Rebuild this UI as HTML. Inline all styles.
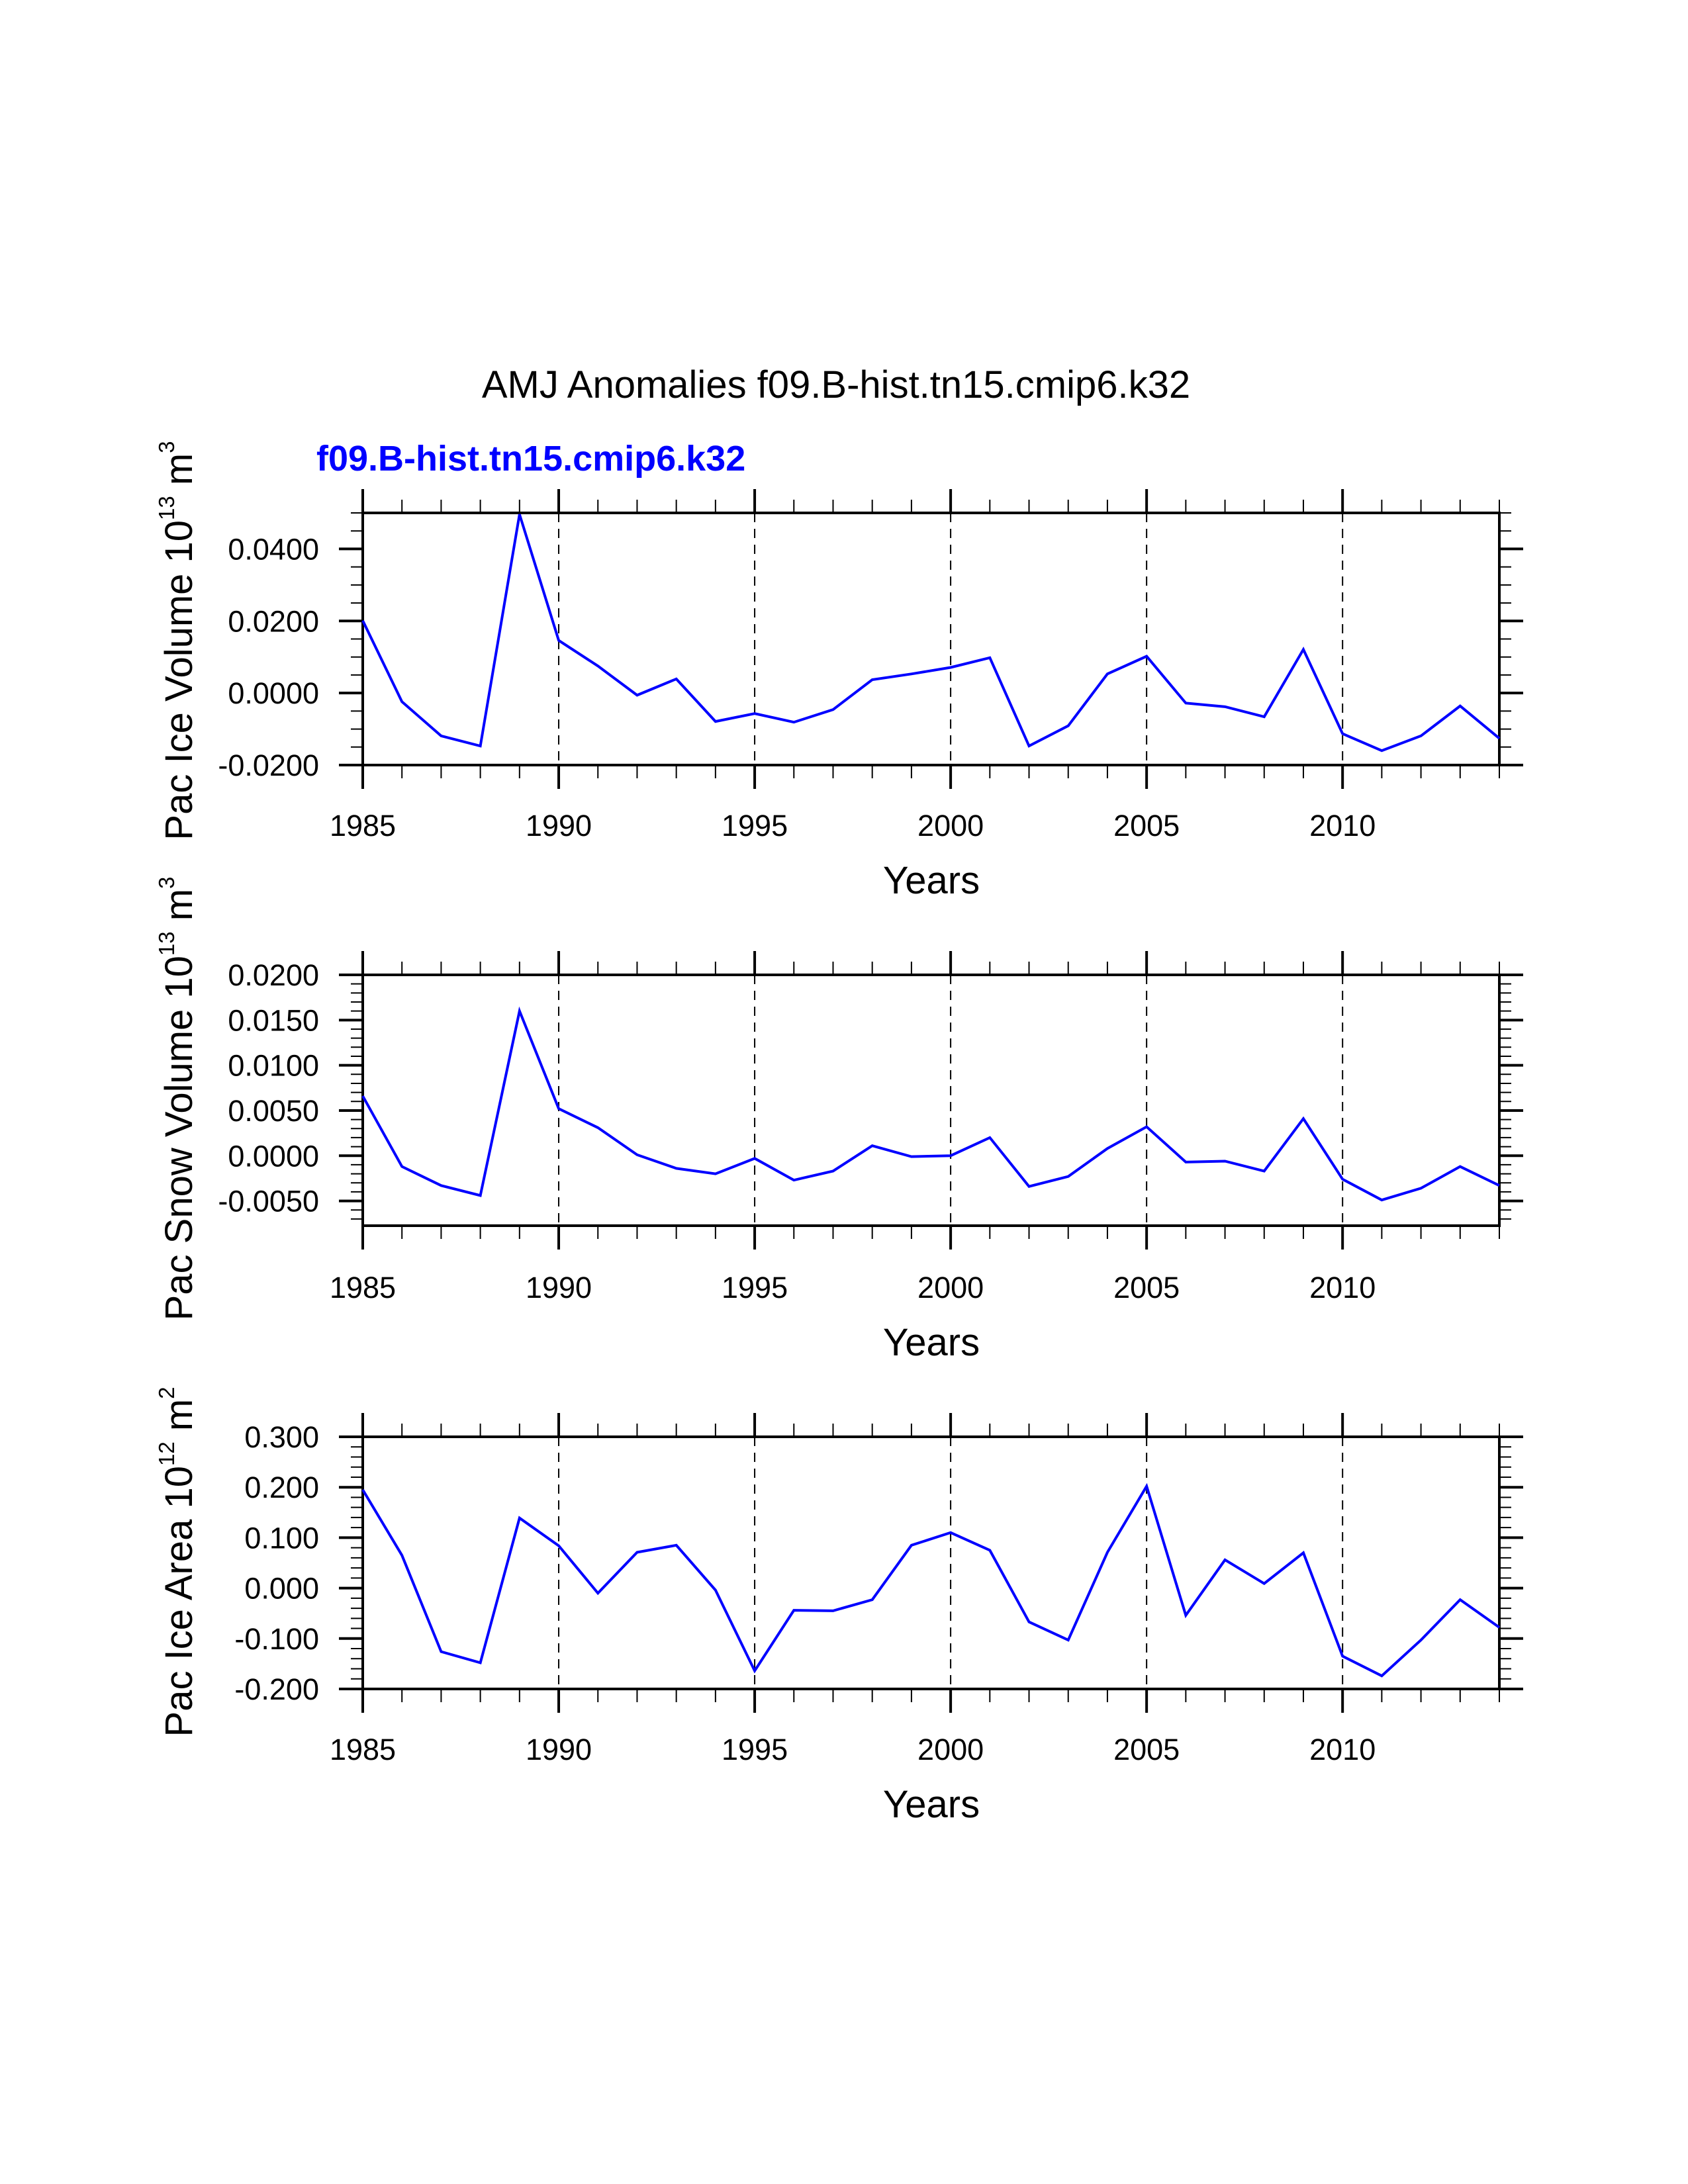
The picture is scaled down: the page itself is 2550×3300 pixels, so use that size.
<!DOCTYPE html>
<html><head><meta charset="utf-8"><style>
html,body{margin:0;padding:0;background:#fff;}
svg{display:block;font-family:"Liberation Sans",sans-serif;}
</style></head><body>
<svg id="chart" xmlns="http://www.w3.org/2000/svg" width="2550" height="3300" viewBox="0 0 2550 3300">
<rect width="2550" height="3300" fill="#fff"/>
<text x="1263" y="601" font-size="58" text-anchor="middle">AMJ Anomalies f09.B-hist.tn15.cmip6.k32</text>
<text x="478" y="711" font-size="54" font-weight="bold" fill="#0000ff">f09.B-hist.tn15.cmip6.k32</text>
</svg>
<script>
const years = [1985,1986,1987,1988,1989,1990,1991,1992,1993,1994,1995,1996,1997,1998,1999,2000,2001,2002,2003,2004,2005,2006,2007,2008,2009,2010,2011,2012,2013,2014];
const iceVolume = [0.0201,-0.0024,-0.0119,-0.0147,0.0496,0.0146,0.0075,-0.0006,0.0039,-0.0079,-0.0057,-0.0081,-0.0046,0.0037,0.0053,0.0071,0.0098,-0.0147,-0.0091,0.0053,0.0102,-0.0028,-0.0038,-0.0066,0.0121,-0.0113,-0.0160,-0.0119,-0.0036,-0.0126];
const snowVolume = [0.0066,-0.0012,-0.0033,-0.0044,0.0160,0.0052,0.0031,0.0001,-0.0014,-0.0020,-0.0003,-0.0027,-0.0017,0.0011,-0.0001,0.0000,0.0020,-0.0034,-0.0023,0.0008,0.0032,-0.0007,-0.0006,-0.0017,0.0041,-0.0026,-0.0049,-0.0036,-0.0012,-0.0033];
const iceArea = [0.195,0.065,-0.126,-0.148,0.139,0.084,-0.010,0.071,0.085,-0.004,-0.164,-0.044,-0.045,-0.023,0.085,0.110,0.075,-0.067,-0.103,0.071,0.202,-0.054,0.056,0.009,0.070,-0.135,-0.174,-0.103,-0.023,-0.078];
const xTickLabels = ["1985","1990","1995","2000","2005","2010"];
const iceVolTicks = ["-0.0200","0.0000","0.0200","0.0400"];
const snowTicks = ["-0.0050","0.0000","0.0050","0.0100","0.0150","0.0200"];
const areaTicks = ["-0.200","-0.100","0.000","0.100","0.200","0.300"];

const NS="http://www.w3.org/2000/svg";
const svg=document.getElementById('chart');
function el(tag,attrs,parent){const e=document.createElementNS(NS,tag);for(const k in attrs)e.setAttribute(k,attrs[k]);(parent||svg).appendChild(e);return e;}

const L=548,R=2265,X0=1985,X1=2014;
const xs=v=>L+(v-X0)/(X1-X0)*(R-L);

function panel(key,top,bot,ymin,ymax,data,ticks,minorStep,titleParts,titleY,tickLblY,yearsY){
  const g=el('g',{});
  
  
  const ys=v=>bot-(v-ymin)/(ymax-ymin)*(bot-top);
  for(let y=1990;y<=2010;y+=5){
    const d=el('line',{x1:xs(y),x2:xs(y),y1:top,y2:bot,stroke:'#000','stroke-width':2,'stroke-dasharray':'14,10'},g);
    
    
  }
  for(let y=X0;y<=X1;y++){
    const major=(y%5===0);const len=major?36:20;
    el('line',{x1:xs(y),x2:xs(y),y1:top-len,y2:top,stroke:'#000','stroke-width':major?4:2},g);
    el('line',{x1:xs(y),x2:xs(y),y1:bot,y2:bot+len,stroke:'#000','stroke-width':major?4:2},g);
  }
  xTickLabels.forEach(s=>{
    const t=el('text',{x:xs(+s),y:tickLblY,'font-size':45,'text-anchor':'middle'},g);
    
    
    t.textContent=s;
  });
  const start=Math.ceil(ymin/minorStep-1e-6);
  for(let i=start;i*minorStep<=ymax+1e-9;i++){
    const v=i*minorStep;const yy=ys(v);
    el('line',{x1:L-18,x2:L,y1:yy,y2:yy,stroke:'#000','stroke-width':2},g);
    el('line',{x1:R,x2:R+18,y1:yy,y2:yy,stroke:'#000','stroke-width':2},g);
  }
  ticks.forEach(s=>{
    const yy=ys(parseFloat(s));
    el('line',{x1:L-36,x2:L,y1:yy,y2:yy,stroke:'#000','stroke-width':4},g);
    el('line',{x1:R,x2:R+36,y1:yy,y2:yy,stroke:'#000','stroke-width':4},g);
    const t=el('text',{x:482,y:yy+16,'font-size':45,'text-anchor':'end'},g);
    
    
    t.textContent=s;
  });
  const f=el('rect',{x:L,y:top,width:R-L,height:bot-top,fill:'none',stroke:'#000','stroke-width':4},g);
  
  
  const pts=data.map((v,i)=>xs(years[i])+','+ys(v)).join(' ');
  const pl=el('polyline',{points:pts,fill:'none',stroke:'#0000ff','stroke-width':4,'stroke-linejoin':'miter'},g);
  
  
  const tt=el('text',{x:0,y:0,'font-size':58,'text-anchor':'middle',transform:'translate(290,'+titleY+') rotate(-90)'},g);
  
  
  titleParts.forEach(p=>{
    const ts=el('tspan',p[1]?{'font-size':33,dy:-27}:{dy:p[2]||0},tt);
    ts.textContent=p[0];
  });
  const yt=el('text',{x:1407,y:yearsY,'font-size':58,'text-anchor':'middle'},g);
  
  
  yt.textContent='Years';
}
panel('ice-volume',775,1156,-0.02,0.05,iceVolume,iceVolTicks,0.005,
  [['Pac Ice Volume 10',0],['13',1],[' m',0,27],['3',1]],968,1263,1350);
panel('snow-volume',1473,1852,-0.00774,0.02,snowVolume,snowTicks,0.001,
  [['Pac Snow Volume 10',0],['13',1],[' m',0,27],['3',1]],1660,1961,2048);
panel('ice-area',2171,2552,-0.2,0.3,iceArea,areaTicks,0.02,
  [['Pac Ice Area 10',0],['12',1],[' m',0,27],['2',1]],2360,2659,2746);
</script>
</body></html>
